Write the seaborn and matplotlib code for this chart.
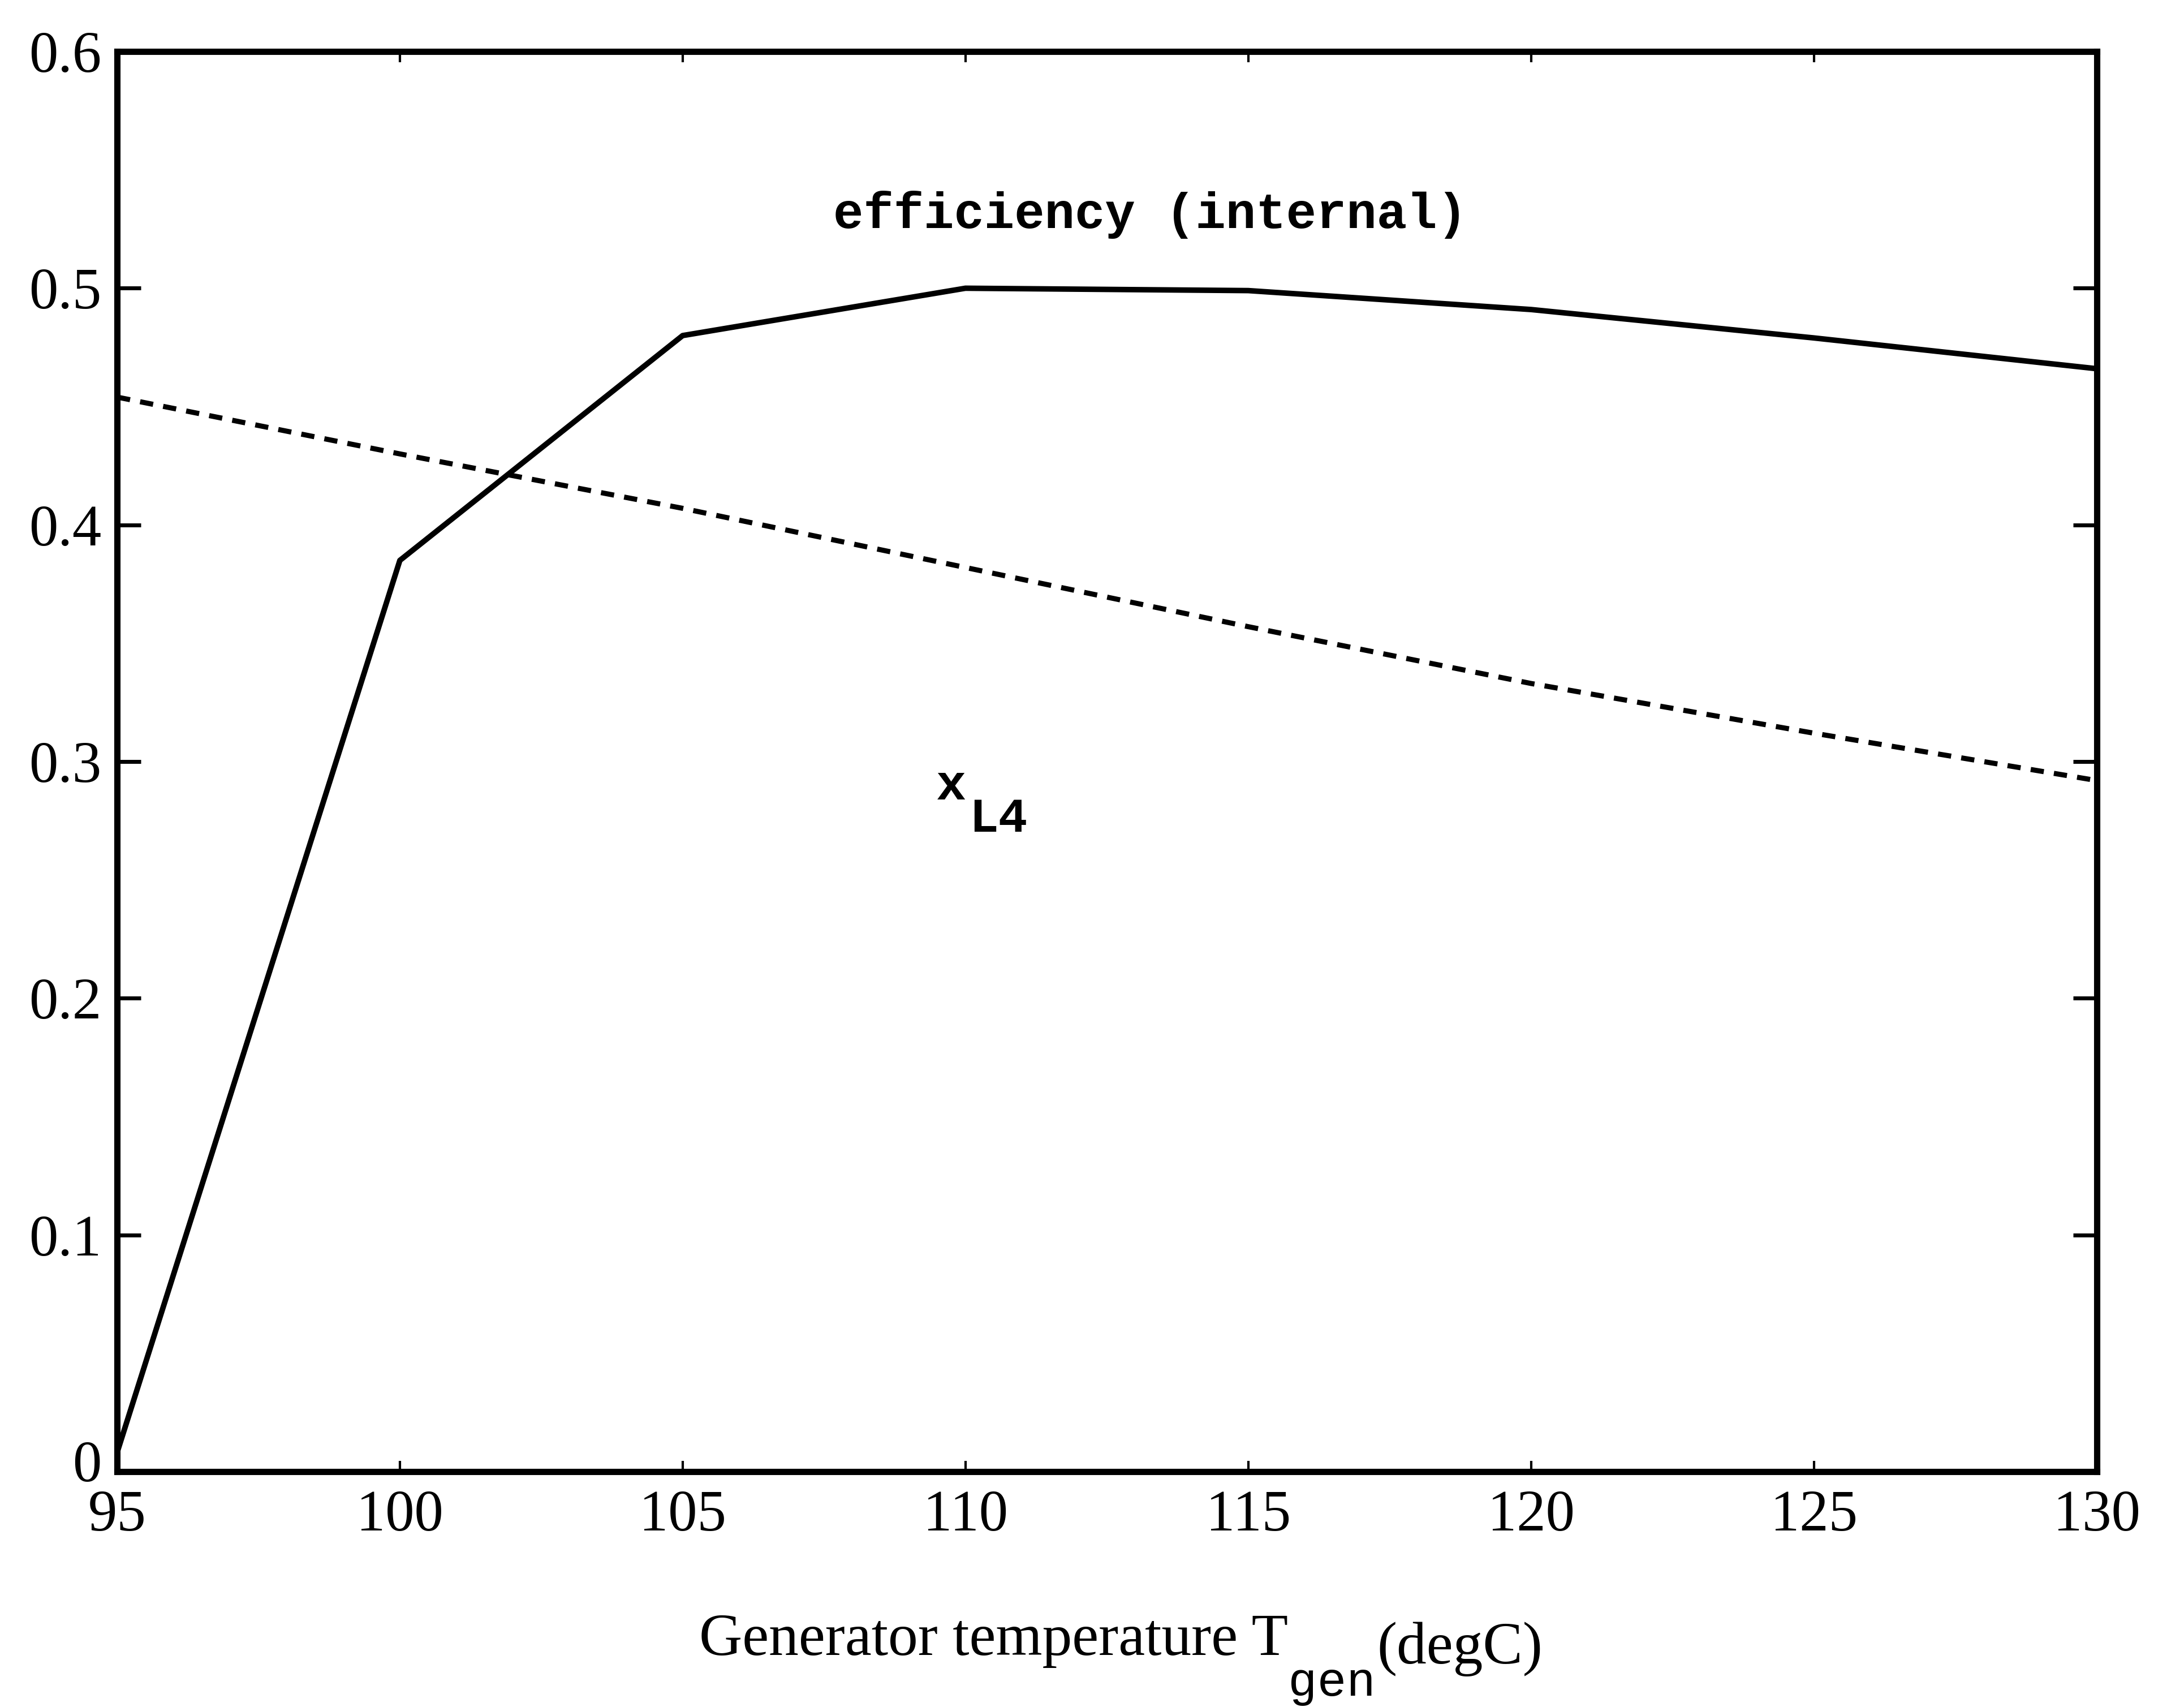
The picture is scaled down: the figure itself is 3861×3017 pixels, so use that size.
import matplotlib
matplotlib.use("Agg")
import matplotlib.pyplot as plt
import matplotlib.transforms as mtransforms
import seaborn as sns
import pandas as pd

# --- data ---
temp_gen = [95, 100, 105, 110, 115, 120, 125, 130]
efficiency = [0.008, 0.385, 0.480, 0.500, 0.499, 0.491, 0.479, 0.466]
x_l4 = [0.454, 0.430, 0.407, 0.382, 0.357, 0.333, 0.312, 0.292]

x_ticks = [95, 100, 105, 110, 115, 120, 125, 130]
y_ticks = [0, 0.1, 0.2, 0.3, 0.4, 0.5, 0.6]
y_tick_labels = ["0", "0.1", "0.2", "0.3", "0.4", "0.5", "0.6"]

SERIF = "Liberation Serif"
MONO = "Liberation Mono"

sns.set_theme(style="ticks")
plt.rcParams["font.family"] = [SERIF, "DejaVu Serif"]
plt.rcParams["text.color"] = "black"
plt.rcParams["xtick.color"] = "black"
plt.rcParams["ytick.color"] = "black"
plt.rcParams["axes.edgecolor"] = "black"

df = pd.DataFrame({"T": temp_gen, "eff": efficiency, "xl4": x_l4})

fig = plt.figure(figsize=(38.61, 30.17), dpi=100)
ax = fig.add_axes([0.0536, 0.1379, 0.9064, 0.8319])

sns.lineplot(data=df, x="T", y="eff", ax=ax, color="black", linewidth=7)
sns.lineplot(data=df, x="T", y="xl4", ax=ax, color="black", linewidth=6.5,
             linestyle=(0, (2.6, 2.0)))

ax.set_xlim(95, 130)
ax.set_ylim(0, 0.6)
ax.set_xticks(x_ticks)
ax.set_xticklabels([str(t) for t in x_ticks])
ax.set_yticks(y_ticks)
ax.set_yticklabels(y_tick_labels)
ax.set_xlabel("")
ax.set_ylabel("")

for s in ax.spines.values():
    s.set_visible(True)
    s.set_linewidth(8)
    s.set_color("black")

ax.tick_params(axis="y", direction="in", length=30, width=5, pad=20,
               labelsize=74, left=True, right=True, colors="black")
ax.tick_params(axis="x", direction="in", length=14, width=3, pad=23,
               labelsize=74, bottom=True, top=True, colors="black")
for lab in ax.get_xticklabels() + ax.get_yticklabels():
    lab.set_family(SERIF)
    lab.set_color("black")

# the "0" label sits a little above the corner in the original
zero_lab = ax.get_yticklabels()[0]
zero_lab.set_transform(zero_lab.get_transform() +
                       mtransforms.ScaledTranslation(0, 14 / 72, fig.dpi_scale_trans))

# curve labels
ax.text(107.66, 0.5254, "efficiency (internal)", family=MONO, fontweight="bold",
        fontsize=64, ha="left", va="baseline", color="black")
ax.text(109.48, 0.284, "x", family=MONO, fontweight="bold", fontsize=64,
        ha="left", va="baseline", color="black")
ax.text(110.06, 0.2704, "L4", family=MONO, fontweight="bold", fontsize=62,
        ha="left", va="baseline", color="black")

# x axis label built from pieces (subscript in typewriter font)
fig.text(1236 / 3861, 1 - 2925 / 3017, "Generator temperature T", family=SERIF,
         fontsize=76, ha="left", va="baseline", color="black")
fig.text(2277 / 3861, 1 - 2997 / 3017, "gen", family=MONO,
         fontsize=62, ha="left", va="baseline", color="black")
fig.text(2434 / 3861, 1 - 2940 / 3017, "(degC)", family=SERIF,
         fontsize=76, ha="left", va="baseline", color="black")

fig.savefig("out.png", dpi=100, facecolor="white")
